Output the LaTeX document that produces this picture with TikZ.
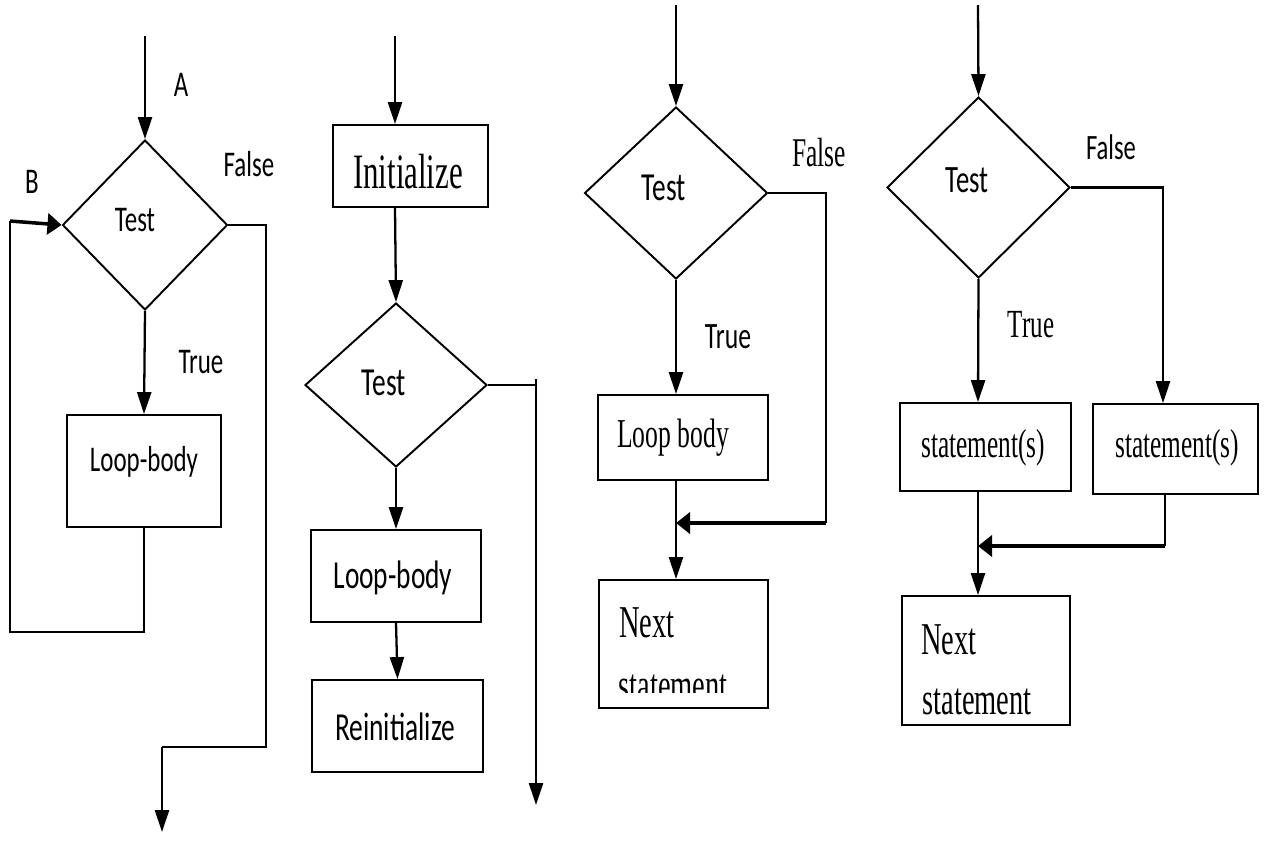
\documentclass[tikz,border=0pt]{standalone}
\usepackage{fontspec}
\usepackage{graphicx}
\usetikzlibrary{shapes.geometric,arrows.meta}
\newfontfamily\sansf{Carlito}
\newfontfamily\seriff{Liberation Serif}
\newcommand\SA[2]{\scalebox{1}[1.45]{\fontsize{#1}{#1}\sansf #2}}
\newcommand\SE[2]{\scalebox{1}[1.6]{\fontsize{#1}{#1}\seriff #2}}
\begin{document}
\begin{tikzpicture}[x=0.02cm,y=-0.02cm,
  box/.style={draw, line width=1.1pt, inner sep=0, rectangle},
  dia/.style={draw, line width=1.1pt, diamond, inner sep=0},
  txt/.style={inner sep=0},
  ln/.style={line width=1.1pt},
  arr/.style={line width=1.3pt, -{Triangle[length=12.5pt,width=8pt]}},
  harr/.style={line width=2pt, -{Triangle[length=8pt,width=12pt]}}]
\useasboundingbox (0,0) rectangle (1273,850);

% ---------- Diagram 1 ----------
\coordinate (s1) at (145,36);
\node[dia, minimum width=3.3cm, minimum height=3.4cm] (d1) at (145,225) {};
\node[txt] (t1) at (135,220) {\SA{14.2pt}{Test}};
\node[txt] (A) at (181,85) {\SA{14.2pt}{A}};
\begin{scope}
\clip (0,150) rectangle (70,192);
\node[txt] (B) at (32,182) {\SA{14.2pt}{B}};
\end{scope}
\node[txt] (f1) at (249,164) {\SA{14.2pt}{False}};
\node[txt] (tr1) at (201,362) {\SA{14.2pt}{True}};
\node[box, minimum width=3.08cm, minimum height=2.24cm] (b1) at (144,471) {};
\node[txt] (lb1) at (144,462) {\SA{14.2pt}{Loop-body}};
\draw[arr] (s1) -- (d1.north);
\draw[arr] (d1.south) -- (b1.north);
\coordinate (c1) at (10,632);
\coordinate (c2) at (10,221);
\draw[ln] (b1.south) |- (c1) -- (c2);
\draw[harr] (c2) -- (d1.west);
\coordinate (c3) at (266,747);
\coordinate (e1) at (162,832);
\draw[ln] (d1.east) -| (c3) -- (c3 -| e1);
\draw[arr] (c3 -| e1) -- (e1);

% ---------- Diagram 2 ----------
\coordinate (s2) at (395,36);
\node[box, minimum width=3.1cm, minimum height=1.64cm] (init) at (410.5,166) {};
\node[txt] (it) at (408,172) {\SE{17.6pt}{Initialize}};
\draw[arr] (s2) -- (s2 |- init.north);
\node[dia, minimum width=3.64cm, minimum height=3.28cm] (d2) at (396,385) {};
\draw[arr] (s2 |- init.south) -- (d2.north);
\node[txt] (t2) at (384,383) {\SA{15.6pt}{Test}};
\node[box, minimum width=3.4cm, minimum height=1.84cm] (lb2) at (396,576) {};
\node[txt] (lb2t) at (393,578) {\SA{15.6pt}{Loop-body}};
\draw[arr] (d2.south) -- (lb2.north);
\node[box, minimum width=3.42cm, minimum height=1.84cm] (ri) at (397.5,726) {};
\node[txt] (rit) at (395,727) {\SA{15.6pt}{Reinitialize}};
\draw[arr] (lb2.south) -- (ri.north);
\coordinate (e2) at (536,805);
\draw[ln] (536,379) -- (536,386);
\draw[arr] (d2.east) -| (e2);

% ---------- Diagram 3 ----------
\coordinate (s3) at (676,5);
\node[dia, minimum width=3.66cm, minimum height=3.44cm] (d3) at (676,193) {};
\draw[arr] (s3) -- (d3.north);
\node[txt] (t3) at (664,188) {\SA{15.6pt}{Test}};
\node[txt] (f3) at (819,153) {\SE{14.5pt}{False}};
\node[txt] (tr3) at (728,337) {\SA{14.6pt}{True}};
\node[box, minimum width=3.4cm, minimum height=1.7cm] (lb3) at (683,437.5) {};
\node[txt] (lb3t) at (673,438) {\SE{14.6pt}{Loop body}};
\draw[arr] (d3.south) -- (s3 |- lb3.north);
\node[box, minimum width=3.38cm, minimum height=2.56cm] (nx3) at (683.5,644) {};
\node[txt] (nx3a) at (647,623) {\SE{16.2pt}{Next}};
\begin{scope}
\clip (600,660) rectangle (767,692);
\node[txt, anchor=base] (nx3b) at (673,700) {\SE{16.2pt}{statement}};
\end{scope}
\draw[arr] (s3 |- lb3.south) -- (s3 |- nx3.north);
\coordinate (j3) at (826,523);
\draw[ln] (d3.east) -| (j3);
\draw[harr] (j3) -- (j3 -| s3);

% ---------- Diagram 4 ----------
\coordinate (s4) at (978,5);
\node[dia, minimum width=3.66cm, minimum height=3.62cm] (d4) at (978.5,187.5) {};
\draw[arr] (s4) -- (d4.north);
\node[txt] (t4) at (967,180) {\SA{15.2pt}{Test}};
\node[txt] (f4t) at (1111,147) {\SA{14pt}{False}};
\node[txt] (tr4) at (1031,325) {\SE{14.2pt}{True}};
\node[box, minimum width=3.42cm, minimum height=1.76cm] (b41) at (985.5,447) {};
\node[txt] (b41t) at (983,448) {\SE{14.4pt}{statement(s)}};
\node[box, minimum width=3.3cm, minimum height=1.8cm] (b42) at (1175.5,449) {};
\node[txt] (b42t) at (1177,448) {\SE{14.4pt}{statement(s)}};
\draw[arr] (d4.south) -- (s4 |- b41.north);
\coordinate (f4) at (1163,0);
\draw[arr] (d4.east) -| (f4 |- b42.north);
\node[box, minimum width=3.36cm, minimum height=2.58cm] (nx4) at (986,660.5) {};
\node[txt] (nx4a) at (949,640) {\SE{16.2pt}{Next}};
\node[txt] (nx4b) at (977,702) {\SE{16.2pt}{statement}};
\draw[arr] (s4 |- b41.south) -- (s4 |- nx4.north);
\coordinate (j4) at (1165,546);
\draw[ln] (j4 |- b42.south) -- (j4);
\draw[harr] (j4) -- (j4 -| s4);
\end{tikzpicture}
\end{document}
